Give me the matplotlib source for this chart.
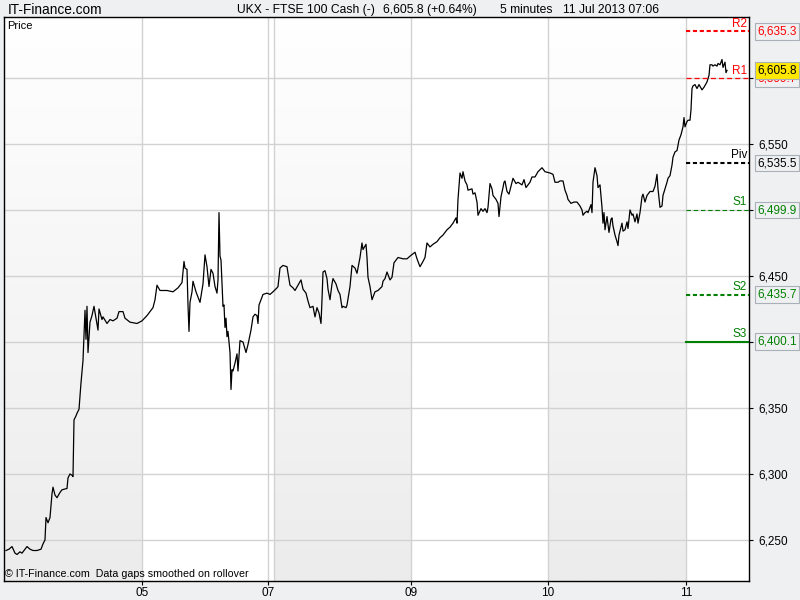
import numpy as np
import matplotlib.pyplot as plt
from matplotlib.colors import LinearSegmentedColormap

# 5-minute bars, UKX (FTSE 100 cash), 04-11 Jul 2013
bar = [6, 9, 12, 15, 17, 20, 22, 25, 27, 30, 33, 37, 41, 43, 45, 46, 48, 50, 52, 53,
       55, 57, 60, 62, 67, 68, 70, 72, 73, 74, 76, 77, 79, 81, 83, 85, 86, 87, 88, 90,
       92, 94, 96, 98, 99, 102, 103, 107, 110, 113, 117, 119, 123, 125, 130, 137, 142, 147, 150, 153,
       155, 157, 160, 167, 173, 178, 182, 184, 185, 187, 188, 189, 190, 192, 193, 196, 198, 200, 203, 205,
       207, 209, 211, 213, 215, 217, 218, 219, 220, 221, 223, 224, 225, 226, 227, 228, 230, 231, 232, 233,
       235, 237, 238, 240, 243, 246, 248, 251, 253, 255, 257, 258, 259, 262, 263, 267, 270, 273, 277, 278,
       280, 283, 287, 288, 290, 293, 295, 298, 301, 303, 306, 308, 310, 313, 315, 317, 319, 321, 322, 323,
       325, 327, 328, 330, 332, 333, 336, 338, 340, 342, 343, 346, 347, 350, 352, 355, 357, 360, 362, 363,
       366, 367, 368, 370, 372, 375, 378, 382, 383, 385, 387, 390, 392, 394, 398, 403, 407, 410, 415, 417,
       420, 423, 425, 427, 430, 433, 437, 440, 443, 447, 450, 453, 456, 457, 458, 460, 462, 463, 465, 467,
       468, 472, 473, 475, 477, 478, 481, 483, 485, 487, 488, 490, 492, 493, 496, 498, 499, 501, 503, 504,
       505, 507, 509, 511, 513, 516, 518, 522, 524, 526, 528, 530, 532, 535, 538, 542, 545, 550, 553, 555,
       558, 560, 563, 565, 567, 568, 571, 574, 577, 580, 582, 583, 585, 587, 588, 591, 592, 593, 595, 597,
       598, 600, 602, 603, 604, 605, 607, 608, 609, 611, 612, 613, 615, 617, 618, 619, 622, 623, 625, 627,
       628, 630, 632, 633, 635, 637, 638, 640, 642, 643, 645, 647, 650, 653, 655, 657, 658, 660, 662, 663,
       665, 667, 668, 670, 672, 673, 675, 677, 679, 681, 683, 684, 685, 687, 688, 690, 691, 692, 693, 695,
       697, 699, 702, 704, 707, 709, 710, 712, 713, 715, 717, 718, 720, 722, 723, 725, 726, 727]
price = [6242, 6243, 6245, 6240, 6239, 6241, 6240, 6243, 6245, 6243, 6242, 6242, 6243, 6247, 6250, 6267, 6263, 6267, 6285, 6290,
         6284, 6282, 6286, 6288, 6289, 6297, 6300, 6299, 6298, 6341, 6344, 6346, 6349, 6369, 6386, 6424, 6402, 6427, 6392, 6415,
         6420, 6427, 6418, 6409, 6425, 6417, 6419, 6414, 6417, 6416, 6418, 6423, 6423, 6418, 6415, 6414, 6416, 6420, 6423, 6426,
         6432, 6443, 6439, 6439, 6438, 6441, 6445, 6461, 6456, 6455, 6428, 6408, 6430, 6438, 6446, 6438, 6434, 6430, 6444, 6466,
         6457, 6442, 6455, 6452, 6442, 6437, 6447, 6498, 6465, 6462, 6427, 6428, 6411, 6418, 6404, 6408, 6392, 6364, 6379, 6378,
         6384, 6391, 6378, 6401, 6400, 6392, 6398, 6409, 6419, 6421, 6420, 6414, 6428, 6434, 6436, 6437, 6436, 6438, 6441, 6442,
         6456, 6458, 6457, 6452, 6443, 6441, 6439, 6443, 6447, 6440, 6437, 6431, 6426, 6427, 6419, 6426, 6422, 6414, 6432, 6453,
         6454, 6448, 6440, 6432, 6444, 6448, 6444, 6439, 6436, 6426, 6427, 6426, 6428, 6442, 6458, 6456, 6452, 6464, 6475, 6470,
         6474, 6464, 6449, 6442, 6432, 6438, 6439, 6442, 6446, 6448, 6453, 6447, 6449, 6460, 6464, 6463, 6463, 6465, 6468, 6463,
         6457, 6461, 6464, 6475, 6472, 6474, 6476, 6479, 6481, 6485, 6487, 6490, 6494, 6490, 6508, 6528, 6524, 6529, 6522, 6519,
         6515, 6516, 6512, 6513, 6506, 6496, 6501, 6499, 6501, 6498, 6502, 6520, 6516, 6511, 6508, 6505, 6495, 6510, 6517, 6521,
         6522, 6514, 6512, 6518, 6524, 6520, 6521, 6519, 6523, 6517, 6519, 6521, 6525, 6525, 6529, 6532, 6529, 6528, 6527, 6521,
         6521, 6522, 6522, 6515, 6511, 6508, 6505, 6506, 6506, 6503, 6500, 6496, 6498, 6499, 6498, 6504, 6498, 6521, 6532, 6526,
         6517, 6519, 6502, 6490, 6498, 6485, 6495, 6489, 6483, 6493, 6494, 6488, 6481, 6476, 6473, 6481, 6490, 6484, 6485, 6491,
         6486, 6500, 6496, 6497, 6491, 6497, 6490, 6498, 6510, 6512, 6506, 6511, 6514, 6514, 6518, 6527, 6516, 6502, 6503, 6511,
         6516, 6521, 6524, 6526, 6534, 6540, 6544, 6545, 6553, 6557, 6563, 6570, 6563, 6567, 6568, 6568, 6576, 6592, 6594, 6595,
         6592, 6595, 6591, 6593, 6597, 6602, 6610, 6610, 6609, 6610, 6609, 6611, 6610, 6614, 6608, 6612, 6604, 6605.8]

day_lines = [142, 268, 274, 411, 548, 686]
day_ticks = [142, 268, 411, 548, 686]
day_labels = ['05', '07', '09', '10', '11']
shaded = [(4, 142), (274, 411), (548, 686)]

price_ticks = [6250, 6300, 6350, 6400, 6450, 6500, 6550, 6600]
shown_ticks = [6250, 6300, 6350, 6450, 6550]

pivot_names = ['R2', 'R1', 'Piv', 'S1', 'S2', 'S3']
pivot_values = [6635.3, 6599.7, 6535.5, 6499.9, 6435.7, 6400.1]
pivot_colors = ['#ff0000', '#ff0000', '#000000', '#008000', '#008000', '#008000']
pivot_widths = [1.5, 0.9, 1.5, 0.8, 1.5, 1.5]
pivot_styles = [(0, (2, 1.3)), (0, (4, 2.5)), (0, (2, 1.3)), (0, (4, 2.5)), (0, (2, 1.3)), '-']
last_price = 6605.8

header_parts = ['UKX - FTSE 100 Cash (-)', '6,605.8 (+0.64%)', '5 minutes', '11 Jul 2013 07:06']

bg = '#eff0f2'
fig = plt.figure(figsize=(8, 6), dpi=100, facecolor=bg)
ax = fig.add_axes([4 / 800, 19 / 600, 745 / 800, 564 / 600])
ax.set_facecolor('white')

xlo, xhi = 4, 749
ylo, yhi = 6218.9, 6646.2

# day bands: light grey fading to white at the top
grad = np.linspace(0, 1, 256).reshape(-1, 1)
cmap = LinearSegmentedColormap.from_list('band', ['#ffffff', '#ececec'])
for a, b in shaded:
    ax.imshow(grad, extent=[a, b, ylo, yhi], origin='upper', aspect='auto', cmap=cmap, zorder=0)

for x in day_lines:
    ax.axvline(x, color='#d2d2d2', lw=1, zorder=1)
for y in price_ticks:
    ax.axhline(y, color='#d2d2d2', lw=1, zorder=1)

ax.plot(bar, price, color='black', lw=0.9, zorder=3)

# pivot levels for the current day
for name, val, col, lw, ls in zip(pivot_names, pivot_values, pivot_colors, pivot_widths, pivot_styles):
    ax.plot([686, xhi], [val, val], color=col, lw=lw, linestyle=ls, zorder=4)
    ax.text(747, val + 1.3, name, color=col, fontsize=8.5, ha='right', va='bottom',
            family='Liberation Sans', zorder=5)
    ax.text(757, val, f'{val:,.1f}', color=col, fontsize=8.5, ha='left', va='center',
            family='Liberation Sans', clip_on=False, zorder=6,
            bbox=dict(boxstyle='square,pad=0.2', facecolor=bg, edgecolor='#a9b0b8', lw=0.8))

ax.text(757, last_price, f'{last_price:,.1f}', color='black', fontsize=8.5, ha='left', va='center',
        family='Liberation Sans', clip_on=False, zorder=7,
        bbox=dict(boxstyle='square,pad=0.2', facecolor='#ffe800', edgecolor='#a9b0b8', lw=0.8))

ax.set_xlim(xlo, xhi)
ax.set_ylim(ylo, yhi)

ax.yaxis.tick_right()
ax.set_yticks(price_ticks)
ax.set_yticklabels([f'{v:,.0f}' if v in shown_ticks else '' for v in price_ticks],
                   family='Liberation Sans', fontsize=8.5)
ax.tick_params(axis='y', length=3, width=0.8, color='black', pad=4)
ax.set_xticks(day_ticks)
ax.set_xticklabels(day_labels, family='Liberation Sans', fontsize=8.5)
ax.tick_params(axis='x', length=3, width=0.8, color='black', pad=1)
for s in ax.spines.values():
    s.set_linewidth(1)
    s.set_color('black')

ax.text(0.004, 0.993, 'Price', transform=ax.transAxes, fontsize=8, ha='left', va='top',
        family='Liberation Sans')
ax.text(0.002, 0.004, '\u00a9 IT-Finance.com  Data gaps smoothed on rollover', transform=ax.transAxes,
        fontsize=7.7, ha='left', va='bottom', family='Liberation Sans')

fig.text(8 / 800, 1 - 10 / 600, 'IT-Finance.com', fontsize=9.8, ha='left', va='center',
         family='Liberation Sans')
for xp, part in zip([237, 383, 500, 563], header_parts):
    fig.text(xp / 800, 1 - 10 / 600, part, fontsize=8.7, ha='left', va='center',
             family='Liberation Sans')

fig.savefig('out.png', dpi=100, facecolor=bg)
